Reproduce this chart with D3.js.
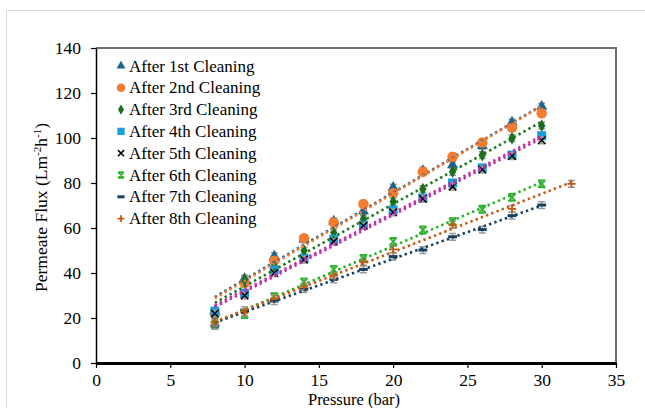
<!DOCTYPE html>
<html lang="en">
<head>
<meta charset="utf-8">
<title>Permeate flux vs pressure after cleaning cycles</title>
<script src="https://d3js.org/d3.v7.min.js"></script>
<style>
  body { margin: 0; background: #fff; }
  svg text { font-family: "Liberation Serif", "Times New Roman", serif; fill: #000; }
</style>
</head>
<body>
<script>
  // ---------------- data ----------------
  const seriesNames = [
    "After 1st Cleaning", "After 2nd Cleaning", "After 3rd Cleaning", "After 4th Cleaning",
    "After 5th Cleaning", "After 6th Cleaning", "After 7th Cleaning", "After 8th Cleaning"
  ];
  const pressures = [8, 10, 12, 14, 16, 18, 20, 22, 24, 26, 28, 30];
  const pressures8th = [8, 10, 12, 14, 16, 18, 20, 24, 28, 32];

  const flux1st = [23, 37.5, 47.5, 55, 63, 67.5, 78, 85.5, 88, 96.5, 107, 114];
  const flux2nd = [22, 35.5, 45.5, 55.5, 62.5, 70.7, 75.5, 85, 91.7, 98, 104.6, 111];
  const flux3rd = [20, 37, 43, 50, 58, 64, 71.7, 77.3, 85, 92.4, 99.9, 105.5];
  const flux4th = [23, 31, 41.3, 46.5, 55, 61.3, 68, 73.3, 80, 86.7, 92.4, 101];
  const flux5th = [22, 30, 40, 46, 54, 61, 67, 73, 78.4, 86, 92, 99];
  const flux6th = [17, 21.5, 29.5, 36, 41.6, 46.5, 54, 59.1, 62.8, 68.3, 73.6, 79.6];
  const flux7th = [16.5, 23.5, 27.5, 32.8, 37.2, 41.6, 47.3, 50.2, 56.1, 59.3, 65.5, 70.2];
  const flux8th = [18, 22.5, 28.5, 34, 39, 45, 50.5, 61.5, 68.5, 79.6];

  const xTicks = [0, 5, 10, 15, 20, 25, 30, 35];
  const yTicks = [0, 20, 40, 60, 80, 100, 120, 140];
  const errorHalf = 1.5;

  // ---------------- styling ----------------
  const markerColors = ["#1f6391", "#f47c30", "#1a6e1e", "#16a0dc", "#000000", "#2fb52f", "#16405e", "#c55a11"];
  const trendColors  = ["#1f6391", "#f47c30", "#1a7a1a", "#c030a8", "#c030a8", "#22b422", "#16405e", "#c55a11"];
  const markerKinds  = ["triangle", "circle", "diamond", "square", "cross", "asterisk", "dash", "plus"];

  const series = [
    { x: pressures, y: flux1st }, { x: pressures, y: flux2nd }, { x: pressures, y: flux3rd },
    { x: pressures, y: flux4th }, { x: pressures, y: flux5th }, { x: pressures, y: flux6th },
    { x: pressures, y: flux7th }, { x: pressures8th, y: flux8th }
  ].map((s, i) => ({
    name: seriesNames[i],
    kind: markerKinds[i],
    color: markerColors[i],
    trend: trendColors[i],
    points: s.x.map((x, j) => ({ x, y: s.y[j] }))
  }));

  const W = 645, H = 408;
  const margin = { left: 96, right: 29, top: 48, bottom: 45 };

  const svg = d3.select("body").append("svg")
    .attr("width", W).attr("height", H);

  // outer chart-area frame
  svg.append("path")
    .attr("d", `M6.5,${H} V10.5 H${W}`)
    .attr("fill", "none").attr("stroke", "#d9d9d9").attr("stroke-width", 1);

  const x = d3.scaleLinear().domain([0, 35]).range([margin.left, W - margin.right]);
  const y = d3.scaleLinear().domain([0, 140]).range([H - margin.bottom, margin.top]);

  // plot frame (top/right)
  svg.append("path")
    .attr("d", `M${x(0)},${y(140)} H${x(35)} V${y(0)}`)
    .attr("fill", "none").attr("stroke", "#6f6f6f").attr("stroke-width", 2);

  // axes
  const yAxis = svg.append("g")
    .attr("transform", `translate(${x(0)},0)`)
    .call(d3.axisLeft(y).tickValues(yTicks).tickSize(5).tickPadding(10).tickSizeOuter(0));
  const xAxis = svg.append("g")
    .attr("transform", `translate(0,${y(0)})`)
    .call(d3.axisBottom(x).tickValues(xTicks).tickSize(5).tickPadding(6).tickSizeOuter(0));

  [xAxis, yAxis].forEach(g => {
    g.select(".domain").attr("stroke", "#000").attr("stroke-width", 1.5);
    g.selectAll(".tick line").attr("stroke", "#000").attr("stroke-width", 1.2);
    g.selectAll(".tick text").attr("font-size", 17.5)
      .attr("font-family", "Liberation Serif, Times New Roman, serif").attr("fill", "#000");
  });
  xAxis.select(".domain").attr("stroke-width", 3);

  // axis titles
  svg.append("text")
    .attr("x", (x(0) + x(35)) / 2 - 2).attr("y", 404.5)
    .attr("text-anchor", "middle").attr("font-size", 16.5)
    .text("Pressure (bar)");

  const yTitle = svg.append("text")
    .attr("transform", `translate(47,${(y(0) + y(140)) / 2 + 2}) rotate(-90)`)
    .attr("text-anchor", "middle").attr("font-size", 17.5);
  yTitle.append("tspan").text("Permeate Flux (Lm");
  yTitle.append("tspan").attr("font-size", 11).attr("dy", -6).text("-2");
  yTitle.append("tspan").attr("dy", 6).text("h");
  yTitle.append("tspan").attr("font-size", 11).attr("dy", -6).text("-1");
  yTitle.append("tspan").attr("dy", 6).text(")");

  // marker drawing
  function drawMarker(g, kind, color, scale) {
    const s = scale;
    if (kind === "triangle") {
      g.append("path").attr("d", d3.symbol(d3.symbolTriangle, 48 * s * s)()).attr("fill", color);
    } else if (kind === "circle") {
      g.append("circle").attr("r", 5 * s).attr("fill", color);
    } else if (kind === "diamond") {
      g.append("path").attr("d", d3.symbol(d3.symbolDiamond, 42 * s * s)()).attr("fill", color);
    } else if (kind === "square") {
      g.append("rect").attr("x", -4.3 * s).attr("y", -4.3 * s)
        .attr("width", 8.6 * s).attr("height", 8.6 * s).attr("fill", color);
    } else if (kind === "cross") {
      const r = 3.6 * s;
      g.append("path").attr("d", `M${-r},${-r}L${r},${r}M${-r},${r}L${r},${-r}`)
        .attr("stroke", color).attr("stroke-width", 1.5).attr("fill", "none");
    } else if (kind === "asterisk") {
      const r = 3.4 * s;
      g.append("path")
        .attr("d", `M${-r},${-r}L${r},${r}M${-r},${r}L${r},${-r}M${-r},${-r}H${r}M${-r},${r}H${r}`)
        .attr("stroke", color).attr("stroke-width", 1.8).attr("fill", "none");
    } else if (kind === "dash") {
      const r = 4.2 * s;
      g.append("path").attr("d", `M${-r},0H${r}`)
        .attr("stroke", color).attr("stroke-width", 3).attr("fill", "none");
    } else if (kind === "plus") {
      const r = 4 * s;
      g.append("path").attr("d", `M${-r},0H${r}M0,${-r}V${r}`)
        .attr("stroke", color).attr("stroke-width", 1.8).attr("fill", "none");
    }
  }

  // error bars + markers
  const plot = svg.append("g");
  series.forEach(s => {
    const g = plot.append("g");
    s.points.forEach(p => {
      const cx = x(p.x), top = y(p.y + errorHalf), bot = y(p.y - errorHalf);
      g.append("path")
        .attr("d", `M${cx},${top}V${bot}M${cx - 3.5},${top}H${cx + 3.5}M${cx - 3.5},${bot}H${cx + 3.5}`)
        .attr("stroke", "#9a9a9a").attr("stroke-width", 1.5).attr("fill", "none");
      const m = g.append("g").attr("transform", `translate(${cx},${y(p.y)})`);
      drawMarker(m, s.kind, s.color, 1.05);
    });
  });

  // linear trend lines (least squares on each series)
  series.forEach(s => {
    const xs = s.points.map(p => p.x), ys = s.points.map(p => p.y);
    const mx = d3.mean(xs), my = d3.mean(ys);
    const slope = d3.sum(xs, (v, i) => (v - mx) * (ys[i] - my)) / d3.sum(xs, v => (v - mx) ** 2);
    const icpt = my - slope * mx;
    const [x0, x1] = d3.extent(xs);
    plot.append("line")
      .attr("x1", x(x0)).attr("y1", y(icpt + slope * x0))
      .attr("x2", x(x1)).attr("y2", y(icpt + slope * x1))
      .attr("stroke", s.trend).attr("stroke-width", 2.6)
      .attr("stroke-dasharray", "2.4,3.2");
  });

  // legend
  const legend = svg.append("g").attr("transform", "translate(121,66)");
  series.forEach((s, i) => {
    const row = legend.append("g").attr("transform", `translate(0,${i * 21.8})`);
    drawMarker(row.append("g"), s.kind, s.color, 0.85);
    row.append("text").attr("x", 8).attr("y", 5.5).attr("font-size", 17).text(s.name);
  });
</script>
</body>
</html>
